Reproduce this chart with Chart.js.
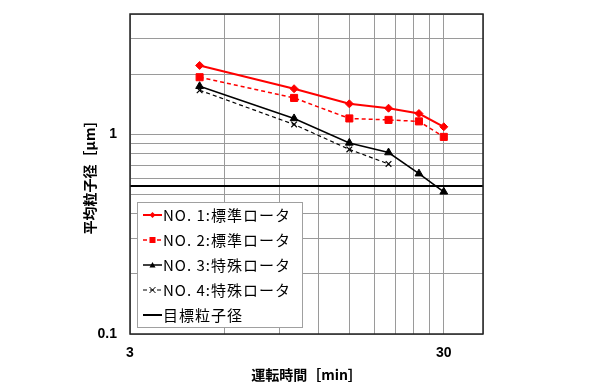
<!DOCTYPE html>
<html>
<head>
<meta charset="utf-8">
<script src="https://cdn.jsdelivr.net/npm/chart.js@4.4.1/dist/chart.umd.min.js"></script>
<style>
  html, body { margin: 0; background: #fff; }
  #wrap { width: 590px; height: 392px; }
</style>
</head>
<body>
<div id="wrap"><canvas id="chart"></canvas></div>
<script>
// data
const times = [5, 10, 15, 20, 25, 30];
const times4 = [5, 10, 15, 20];
const no1 = [2.21, 1.69, 1.42, 1.35, 1.27, 1.09];
const no2 = [1.93, 1.52, 1.2, 1.18, 1.16, 0.97];
const no3 = [1.74, 1.2, 0.905, 0.81, 0.635, 0.515];
const no4 = [1.66, 1.12, 0.84, 0.71];
const targetSize = 0.55;
const names = ["NO. 1:標準ロータ", "NO. 2:標準ロータ", "NO. 3:特殊ロータ", "NO. 4:特殊ロータ", "目標粒子径"];

const xRange = [3, 40];
const yRange = [0.1, 4];
const xGrid = [3, 6, 9, 12, 15, 18, 21, 24, 27, 30, 40];
const yGrid = [0.1, 0.2, 0.3, 0.4, 0.5, 0.6, 0.7, 0.8, 0.9, 1, 2, 3, 4];
const xLabels = [3, 30];
const yLabels = [0.1, 1];

const pts = (xs, ys) => xs.map((x, i) => ({ x: x, y: ys[i] }));
const near = (v, list) => list.some((l) => Math.abs(v - l) < 1e-9);

function drawMarker(ctx, style, x, y, r, color) {
  ctx.save();
  ctx.fillStyle = color;
  ctx.strokeStyle = color;
  ctx.setLineDash([]);
  ctx.lineWidth = 1;
  ctx.beginPath();
  if (style === "rectRot") {
    ctx.moveTo(x, y - r); ctx.lineTo(x + r, y); ctx.lineTo(x, y + r); ctx.lineTo(x - r, y);
    ctx.closePath(); ctx.fill();
  } else if (style === "rect") {
    ctx.rect(x - r, y - r, r * 2, r * 2); ctx.fill();
  } else if (style === "triangle") {
    ctx.moveTo(x, y - r); ctx.lineTo(x + r, y + r * 0.8); ctx.lineTo(x - r, y + r * 0.8);
    ctx.closePath(); ctx.fill();
  } else if (style === "crossRot") {
    ctx.moveTo(x - r, y - r); ctx.lineTo(x + r, y + r);
    ctx.moveTo(x + r, y - r); ctx.lineTo(x - r, y + r); ctx.stroke();
  }
  ctx.restore();
}

const frameLegend = {
  id: "frameLegend",
  afterDraw(chart) {
    const ctx = chart.ctx;
    const a = chart.chartArea;
    ctx.save();
    ctx.strokeStyle = "#222";
    ctx.lineWidth = 1.5;
    ctx.strokeRect(a.left, a.top, a.right - a.left, a.bottom - a.top);

    // legend box inside the plot, bottom left
    const bx = a.left + 7, by = a.bottom - 132, bw = 165, bh = 125;
    ctx.fillStyle = "#fff";
    ctx.fillRect(bx, by, bw, bh);
    ctx.strokeStyle = "#a0a0a0";
    ctx.lineWidth = 1;
    ctx.strokeRect(bx + 0.5, by + 0.5, bw, bh);

    ctx.font = "15px 'Noto Sans CJK JP'";
    ctx.textBaseline = "middle";
    chart.data.datasets.forEach((ds, i) => {
      const y = by + 13 + i * 25;
      const x0 = bx + 6, x1 = bx + 25;
      ctx.save();
      ctx.strokeStyle = ds.borderColor;
      ctx.lineWidth = ds.borderWidth;
      ctx.setLineDash(ds.borderDash || []);
      ctx.beginPath();
      ctx.moveTo(x0, y); ctx.lineTo(x1, y); ctx.stroke();
      ctx.restore();
      if (ds.pointRadius > 0) drawMarker(ctx, ds.pointStyle, (x0 + x1) / 2, y, 3, ds.borderColor);
      ctx.fillStyle = "#000";
      ctx.letterSpacing = "1px";
      ctx.fillText(ds.label, x1 + 1, y);
    });
    ctx.restore();
  },
};

const tickFont = { family: "'Liberation Sans', Arial", size: 14, weight: "bold" };
const titleFont = { family: "'Noto Sans CJK JP'", size: 14, weight: "bold" };

new Chart(document.getElementById("chart"), {
  type: "line",
  data: {
    datasets: [
      {
        label: names[0], data: pts(times, no1),
        borderColor: "#ff0000", backgroundColor: "#ff0000", borderWidth: 2,
        pointStyle: "rectRot", pointRadius: 4, pointBorderWidth: 1,
      },
      {
        label: names[1], data: pts(times, no2),
        borderColor: "#ff0000", backgroundColor: "#ff0000", borderWidth: 1.5, borderDash: [4, 3],
        pointStyle: "rect", pointRadius: 5, pointBorderWidth: 1,
      },
      {
        label: names[2], data: pts(times, no3),
        borderColor: "#000", backgroundColor: "#000", borderWidth: 1.5,
        pointStyle: "triangle", pointRadius: 4.5, pointBorderWidth: 1,
      },
      {
        label: names[3], data: pts(times4, no4),
        borderColor: "#000", backgroundColor: "#000", borderWidth: 1.2, borderDash: [4, 3],
        pointStyle: "crossRot", pointRadius: 4, pointBorderWidth: 1.2,
      },
      {
        label: names[4], data: pts(xRange, [targetSize, targetSize]),
        borderColor: "#000", backgroundColor: "#000", borderWidth: 2, pointRadius: 0,
      },
    ],
  },
  options: {
    responsive: true,
    maintainAspectRatio: false,
    animation: false,
    layout: { padding: { left: 75, right: 107, top: 14, bottom: 8 } },
    plugins: { legend: { display: false }, tooltip: { enabled: false } },
    scales: {
      x: {
        type: "logarithmic",
        min: xRange[0],
        max: xRange[1],
        afterBuildTicks: (s) => { s.ticks = xGrid.map((v) => ({ value: v })); },
        afterFit: (s) => { s.height = 50; s.paddingLeft = 0; s.paddingRight = 0; },
        grid: { color: "#9a9a9a", drawTicks: false },
        border: { display: false },
        ticks: {
          autoSkip: false, maxRotation: 0, padding: 11, color: "#000", font: tickFont,
          callback: (v) => (near(v, xLabels) ? String(v) : ""),
        },
        title: { display: true, text: "運転時間［min］", color: "#000", font: titleFont, padding: { top: 0, bottom: 1 } },
      },
      y: {
        type: "logarithmic",
        min: yRange[0],
        max: yRange[1],
        afterBuildTicks: (s) => { s.ticks = yGrid.map((v) => ({ value: v })); },
        afterFit: (s) => { s.width = 55; s.paddingTop = 0; s.paddingBottom = 0; },
        grid: { color: "#9a9a9a", drawTicks: false },
        border: { display: false },
        ticks: {
          autoSkip: false, padding: 13, color: "#000", font: tickFont,
          callback: (v) => (near(v, yLabels) ? String(v) : ""),
        },
        title: { display: true, text: "平均粒子径［μm］", color: "#000", font: titleFont, padding: { top: 6, bottom: 0 } },
      },
    },
  },
  plugins: [frameLegend],
});
</script>
</body>
</html>
